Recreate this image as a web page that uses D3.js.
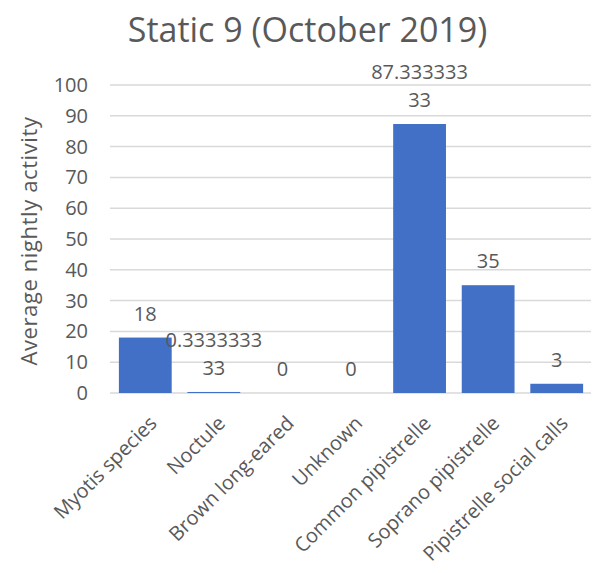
<!DOCTYPE html>
<html>
<head>
<meta charset="utf-8">
<script src="https://cdn.jsdelivr.net/npm/d3@7"></script>
<style>
  body { margin: 0; background: #fff; }
  text { font-family: "Open Sans", sans-serif; fill: #595959; }
</style>
</head>
<body>
<svg id="chart"></svg>
<script>
// Chart data
var categories = ["Myotis species", "Noctule", "Brown long-eared", "Unknown",
                  "Common pipistrelle", "Soprano pipistrelle", "Pipistrelle social calls"];
var values = [18, 0.333333333, 0, 0, 87.33333333, 35, 3];
var yTicks = [0, 10, 20, 30, 40, 50, 60, 70, 80, 90, 100];
var title = "Static 9 (October 2019)";
var yTitle = "Average nightly activity";

var width = 615, height = 573;
var margin = {left: 111, right: 24, top: 85, bottom: 180};

var svg = d3.select("#chart")
            .attr("width", width)
            .attr("height", height);

var x = d3.scaleBand()
          .domain(categories)
          .range([margin.left, width - margin.right])
          .paddingInner(0.23)
          .paddingOuter(0.115);

var y = d3.scaleLinear()
          .domain([0, 100])
          .range([height - margin.bottom, margin.top]);

// Excel "General" style number: at most 11 characters
function fmt(v) {
    var s = String(v);
    if (s.length > 11) {
        var intLen = String(Math.floor(Math.abs(v))).length;
        s = v.toFixed(11 - intLen - 1);
    }
    return s;
}

// Gridlines (axis line at 0 uses the same style)
svg.append("g")
    .selectAll("line")
    .data(yTicks)
    .enter()
    .append("line")
      .attr("x1", margin.left - 1)
      .attr("x2", width - margin.right)
      .attr("y1", d => y(d))
      .attr("y2", d => y(d))
      .attr("stroke", "#d9d9d9")
      .attr("stroke-width", 1.5);

// Y tick labels
svg.append("g")
    .selectAll("text")
    .data(yTicks)
    .enter()
    .append("text")
      .attr("x", 88)
      .attr("y", d => y(d))
      .attr("dy", "0.35em")
      .attr("font-size", "20px")
      .style("text-anchor", "end")
      .text(d => d);

// Bars
svg.append("g")
    .selectAll("rect")
    .data(values)
    .enter()
    .append("rect")
      .attr("x", (d, i) => x(categories[i]))
      .attr("width", x.bandwidth())
      .attr("y", d => y(d))
      .attr("height", d => y(0) - y(d))
      .attr("fill", "#4170c6");

// Data labels, wrapped after 9 characters like the original
var labels = svg.append("g")
    .selectAll("text")
    .data(values)
    .enter()
    .append("text")
      .attr("font-size", "20px")
      .style("text-anchor", "middle");

labels.each(function(d, i) {
    var s = fmt(d);
    var lines = s.length > 9 ? [s.slice(0, 9), s.slice(9)] : [s];
    var cx = x(categories[i]) + x.bandwidth() / 2;
    var base = y(d) - 17;
    var t = d3.select(this);
    lines.forEach(function(line, k) {
        t.append("tspan")
          .attr("x", cx)
          .attr("y", base - (lines.length - 1 - k) * 28)
          .text(line);
    });
});

// X category labels, rotated
svg.append("g")
    .selectAll("text")
    .data(categories)
    .enter()
    .append("text")
      .attr("transform", d => "translate(" + (x(d) + x.bandwidth() / 2 + 2) + "," + (y(0) + 21) + ") rotate(-45)")
      .attr("dy", "0.75em")
      .attr("font-size", "20px")
      .style("text-anchor", "end")
      .text(d => d);

// Y axis title
svg.append("text")
    .attr("transform", "translate(37," + ((y(0) + y(100)) / 2 + 2) + ") rotate(-90)")
    .attr("font-size", "22px")
    .attr("letter-spacing", "0.6px")
    .style("text-anchor", "middle")
    .text(yTitle);

// Chart title
svg.append("text")
    .attr("x", width / 2)
    .attr("y", 42)
    .attr("font-size", "34px")
    .style("text-anchor", "middle")
    .text(title);
</script>
</body>
</html>
